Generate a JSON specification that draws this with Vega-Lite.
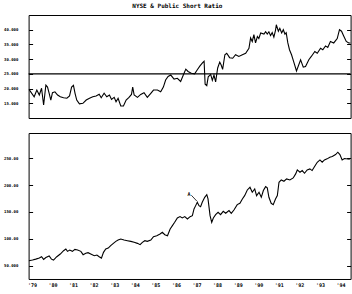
{
  "$schema": "https://vega.github.io/schema/vega-lite/v6.json",
  "padding": {"left": 2.6, "top": 2, "right": 0, "bottom": 0},
  "background": "white",
  "title": {"text": "NYSE & Public Short Ratio", "fontSize": 6, "font": "DejaVu Sans Mono", "fontWeight": "bold", "offset": 6, "anchor": "middle", "color": "black"},
  "config": {
    "view": {"stroke": "black", "strokeWidth": 1},
    "axis": {"labelFont": "DejaVu Sans Mono", "labelFontWeight": "bold", "labelColor": "black", "grid": false, "domain": false, "tickColor": "black", "title": null, "labelOverlap": false}
  },
  "spacing": 13,
  "datasets": {
    "ratio": [
      {"t": 1978.85, "v": 19.8}, {"t": 1979.11, "v": 17.2}, {"t": 1979.24, "v": 19.5}, {"t": 1979.36, "v": 17.8}, {"t": 1979.47, "v": 20.1}, {"t": 1979.57, "v": 14.4}, {"t": 1979.68, "v": 21.2}, {"t": 1979.76, "v": 20.5}, {"t": 1979.84, "v": 18.4}, {"t": 1979.92, "v": 16.1},
      {"t": 1980.0, "v": 18.6}, {"t": 1980.12, "v": 18.9}, {"t": 1980.25, "v": 17.8}, {"t": 1980.38, "v": 17.2}, {"t": 1980.54, "v": 16.9}, {"t": 1980.7, "v": 16.7}, {"t": 1980.83, "v": 17.5}, {"t": 1980.93, "v": 20.5},
      {"t": 1981.02, "v": 21.1}, {"t": 1981.1, "v": 18.3}, {"t": 1981.18, "v": 16.1}, {"t": 1981.31, "v": 14.8}, {"t": 1981.48, "v": 15.0}, {"t": 1981.64, "v": 16.1}, {"t": 1981.8, "v": 16.7}, {"t": 1981.96, "v": 17.2},
      {"t": 1982.12, "v": 17.5}, {"t": 1982.27, "v": 18.1}, {"t": 1982.37, "v": 16.9}, {"t": 1982.51, "v": 18.4}, {"t": 1982.64, "v": 17.2}, {"t": 1982.77, "v": 17.8}, {"t": 1982.87, "v": 16.3},
      {"t": 1983.0, "v": 17.0}, {"t": 1983.09, "v": 15.5}, {"t": 1983.19, "v": 16.7}, {"t": 1983.32, "v": 14.1}, {"t": 1983.45, "v": 14.1}, {"t": 1983.58, "v": 16.1}, {"t": 1983.72, "v": 17.0}, {"t": 1983.84, "v": 18.0}, {"t": 1983.9, "v": 20.5}, {"t": 1983.97, "v": 17.8},
      {"t": 1984.13, "v": 17.0}, {"t": 1984.29, "v": 18.0}, {"t": 1984.45, "v": 18.6}, {"t": 1984.61, "v": 17.0}, {"t": 1984.78, "v": 18.4}, {"t": 1984.91, "v": 19.5},
      {"t": 1985.1, "v": 19.5}, {"t": 1985.26, "v": 18.9}, {"t": 1985.39, "v": 20.5}, {"t": 1985.5, "v": 22.9}, {"t": 1985.62, "v": 24.1}, {"t": 1985.75, "v": 24.6}, {"t": 1985.91, "v": 23.2},
      {"t": 1986.07, "v": 23.5}, {"t": 1986.23, "v": 22.4}, {"t": 1986.36, "v": 24.6}, {"t": 1986.48, "v": 26.6}, {"t": 1986.59, "v": 25.8}, {"t": 1986.75, "v": 25.2}, {"t": 1986.91, "v": 25.0},
      {"t": 1987.04, "v": 26.4}, {"t": 1987.17, "v": 27.7}, {"t": 1987.3, "v": 28.8}, {"t": 1987.37, "v": 29.3}, {"t": 1987.42, "v": 21.5}, {"t": 1987.5, "v": 21.0}, {"t": 1987.57, "v": 24.0}, {"t": 1987.69, "v": 24.8}, {"t": 1987.77, "v": 22.8}, {"t": 1987.85, "v": 24.6}, {"t": 1987.93, "v": 22.3},
      {"t": 1988.03, "v": 27.0}, {"t": 1988.13, "v": 29.0}, {"t": 1988.2, "v": 28.0}, {"t": 1988.27, "v": 26.5}, {"t": 1988.38, "v": 31.5}, {"t": 1988.47, "v": 32.0}, {"t": 1988.61, "v": 30.5}, {"t": 1988.76, "v": 30.3}, {"t": 1988.9, "v": 31.5},
      {"t": 1989.06, "v": 30.9}, {"t": 1989.23, "v": 31.5}, {"t": 1989.39, "v": 32.0}, {"t": 1989.55, "v": 33.7}, {"t": 1989.63, "v": 37.2}, {"t": 1989.71, "v": 36.0}, {"t": 1989.79, "v": 38.3}, {"t": 1989.87, "v": 35.5}, {"t": 1989.96, "v": 37.7},
      {"t": 1990.03, "v": 37.0}, {"t": 1990.12, "v": 38.9}, {"t": 1990.28, "v": 38.5}, {"t": 1990.36, "v": 39.3}, {"t": 1990.44, "v": 38.5}, {"t": 1990.52, "v": 39.3}, {"t": 1990.6, "v": 38.0}, {"t": 1990.68, "v": 39.0}, {"t": 1990.76, "v": 37.5}, {"t": 1990.84, "v": 39.8}, {"t": 1990.88, "v": 41.7}, {"t": 1990.98, "v": 39.5},
      {"t": 1991.05, "v": 40.5}, {"t": 1991.14, "v": 38.9}, {"t": 1991.22, "v": 40.0}, {"t": 1991.3, "v": 38.5}, {"t": 1991.36, "v": 39.0}, {"t": 1991.44, "v": 35.5}, {"t": 1991.52, "v": 33.2}, {"t": 1991.62, "v": 31.5}, {"t": 1991.73, "v": 29.0}, {"t": 1991.86, "v": 26.0},
      {"t": 1992.06, "v": 29.8}, {"t": 1992.19, "v": 27.3}, {"t": 1992.3, "v": 27.5}, {"t": 1992.46, "v": 29.8}, {"t": 1992.59, "v": 31.0}, {"t": 1992.75, "v": 32.6}, {"t": 1992.87, "v": 32.0},
      {"t": 1993.03, "v": 33.7}, {"t": 1993.14, "v": 33.2}, {"t": 1993.27, "v": 34.5}, {"t": 1993.38, "v": 34.0}, {"t": 1993.51, "v": 36.0}, {"t": 1993.67, "v": 35.5}, {"t": 1993.76, "v": 36.3}, {"t": 1993.84, "v": 37.0}, {"t": 1993.95, "v": 40.0},
      {"t": 1994.05, "v": 39.5}, {"t": 1994.16, "v": 37.8}, {"t": 1994.28, "v": 36.0}, {"t": 1994.4, "v": 35.5}, {"t": 1994.49, "v": 35.5}
    ],
    "nyse": [
      {"t": 1978.85, "v": 59.1}, {"t": 1979.03, "v": 60.3}, {"t": 1979.19, "v": 62.0}, {"t": 1979.36, "v": 64.0}, {"t": 1979.47, "v": 66.5}, {"t": 1979.57, "v": 61.6}, {"t": 1979.68, "v": 65.0}, {"t": 1979.84, "v": 67.8}, {"t": 1979.95, "v": 62.0},
      {"t": 1980.05, "v": 60.3}, {"t": 1980.21, "v": 66.5}, {"t": 1980.38, "v": 71.5}, {"t": 1980.54, "v": 77.7}, {"t": 1980.65, "v": 80.8}, {"t": 1980.73, "v": 76.5}, {"t": 1980.84, "v": 79.0}, {"t": 1980.97, "v": 76.5},
      {"t": 1981.09, "v": 80.2}, {"t": 1981.22, "v": 79.0}, {"t": 1981.38, "v": 76.5}, {"t": 1981.49, "v": 70.3}, {"t": 1981.62, "v": 72.8}, {"t": 1981.73, "v": 74.0}, {"t": 1981.86, "v": 71.5},
      {"t": 1982.03, "v": 68.4}, {"t": 1982.16, "v": 69.7}, {"t": 1982.27, "v": 66.5}, {"t": 1982.38, "v": 64.0}, {"t": 1982.48, "v": 74.6}, {"t": 1982.59, "v": 80.8}, {"t": 1982.71, "v": 82.7}, {"t": 1982.83, "v": 87.1}, {"t": 1982.96, "v": 91.4},
      {"t": 1983.08, "v": 95.1}, {"t": 1983.19, "v": 97.6}, {"t": 1983.32, "v": 99.5}, {"t": 1983.48, "v": 97.6}, {"t": 1983.64, "v": 96.4}, {"t": 1983.81, "v": 95.1}, {"t": 1983.97, "v": 93.3},
      {"t": 1984.13, "v": 91.4}, {"t": 1984.26, "v": 88.9}, {"t": 1984.37, "v": 93.3}, {"t": 1984.49, "v": 96.4}, {"t": 1984.61, "v": 95.1}, {"t": 1984.78, "v": 97.6}, {"t": 1984.91, "v": 103.9},
      {"t": 1985.07, "v": 105.7}, {"t": 1985.23, "v": 108.8}, {"t": 1985.34, "v": 112.0}, {"t": 1985.46, "v": 107.6}, {"t": 1985.59, "v": 105.7}, {"t": 1985.72, "v": 118.2}, {"t": 1985.83, "v": 124.4}, {"t": 1985.94, "v": 130.6},
      {"t": 1986.07, "v": 138.7}, {"t": 1986.2, "v": 141.2}, {"t": 1986.31, "v": 138.7}, {"t": 1986.43, "v": 141.2}, {"t": 1986.56, "v": 136.8}, {"t": 1986.69, "v": 141.2}, {"t": 1986.8, "v": 143.0}, {"t": 1986.88, "v": 155.5}, {"t": 1986.96, "v": 161.7},
      {"t": 1987.04, "v": 167.9}, {"t": 1987.12, "v": 161.7}, {"t": 1987.2, "v": 159.8}, {"t": 1987.28, "v": 167.9}, {"t": 1987.4, "v": 177.2}, {"t": 1987.5, "v": 182.2}, {"t": 1987.56, "v": 174.1}, {"t": 1987.66, "v": 143.0}, {"t": 1987.74, "v": 130.6}, {"t": 1987.82, "v": 138.7}, {"t": 1987.93, "v": 144.9},
      {"t": 1988.05, "v": 149.3}, {"t": 1988.17, "v": 144.9}, {"t": 1988.3, "v": 151.1}, {"t": 1988.42, "v": 147.4}, {"t": 1988.58, "v": 152.4}, {"t": 1988.69, "v": 147.4}, {"t": 1988.82, "v": 153.6}, {"t": 1988.98, "v": 163.6},
      {"t": 1989.11, "v": 166.0}, {"t": 1989.23, "v": 174.1}, {"t": 1989.34, "v": 180.3}, {"t": 1989.47, "v": 190.9}, {"t": 1989.6, "v": 195.9}, {"t": 1989.71, "v": 186.6}, {"t": 1989.83, "v": 192.8}, {"t": 1989.92, "v": 180.3},
      {"t": 1990.04, "v": 186.6}, {"t": 1990.15, "v": 177.2}, {"t": 1990.25, "v": 189.7}, {"t": 1990.36, "v": 197.1}, {"t": 1990.44, "v": 194.7}, {"t": 1990.52, "v": 177.2}, {"t": 1990.63, "v": 166.0}, {"t": 1990.73, "v": 163.6}, {"t": 1990.84, "v": 174.1}, {"t": 1990.93, "v": 180.3},
      {"t": 1991.01, "v": 205.2}, {"t": 1991.12, "v": 209.6}, {"t": 1991.25, "v": 207.1}, {"t": 1991.38, "v": 211.4}, {"t": 1991.54, "v": 209.6}, {"t": 1991.7, "v": 213.3}, {"t": 1991.82, "v": 220.8}, {"t": 1991.9, "v": 228.2},
      {"t": 1992.03, "v": 223.9}, {"t": 1992.14, "v": 227.0}, {"t": 1992.25, "v": 222.0}, {"t": 1992.38, "v": 228.2}, {"t": 1992.51, "v": 230.1}, {"t": 1992.62, "v": 227.0}, {"t": 1992.74, "v": 234.5}, {"t": 1992.87, "v": 242.5},
      {"t": 1993.0, "v": 246.9}, {"t": 1993.11, "v": 242.5}, {"t": 1993.22, "v": 246.9}, {"t": 1993.35, "v": 248.8}, {"t": 1993.48, "v": 251.9}, {"t": 1993.6, "v": 253.1}, {"t": 1993.76, "v": 256.8}, {"t": 1993.87, "v": 261.2}, {"t": 1993.97, "v": 256.8},
      {"t": 1994.08, "v": 246.9}, {"t": 1994.19, "v": 249.4}, {"t": 1994.45, "v": 248.1}
    ]
  },
  "vconcat": [
    {
      "width": 322,
      "height": 103,
      "resolve": {"axis": {"y": "independent"}},
      "layer": [
        {
          "data": {"name": "ratio"},
          "mark": {"type": "line", "color": "black", "strokeWidth": 1.1, "clip": true},
          "encoding": {
            "x": {"field": "t", "type": "quantitative", "scale": {"domain": [1978.84, 1994.49], "nice": false, "zero": false}, "axis": null},
            "y": {"field": "v", "type": "quantitative", "scale": {"domain": [10, 45], "nice": false, "zero": false},
                  "axis": {"orient": "left", "values": [15, 20, 25, 30, 35, 40], "format": ".5r", "labelFontSize": 4, "tickSize": -4, "labelPadding": 14.7, "tickCount": 20}}
          }
        },
        {
          "data": {"values": [{"ref": 25}]},
          "mark": {"type": "rule", "color": "black", "strokeWidth": 1.3},
          "encoding": {
            "y": {"field": "ref", "type": "quantitative", "axis": {"orient": "right", "values": [15, 20, 25, 30, 35, 40], "labels": false, "tickSize": -4, "tickCount": 20}}
          }
        }
      ]
    },
    {
      "width": 322,
      "height": 146,
      "resolve": {"axis": {"y": "independent"}},
      "layer": [
        {
          "data": {"name": "nyse"},
          "mark": {"type": "line", "color": "black", "strokeWidth": 1.1, "clip": true},
          "encoding": {
            "x": {"field": "t", "type": "quantitative", "scale": {"domain": [1978.84, 1994.49], "nice": false, "zero": false},
                  "axis": {"values": [1979, 1980, 1981, 1982, 1983, 1984, 1985, 1986, 1987, 1988, 1989, 1990, 1991, 1992, 1993, 1994], "tickCount": 30, "labelExpr": "\"'\" + substring(toString(datum.value), 2)", "labelFontSize": 5, "ticks": false, "labelPadding": 4, "labelOverlap": false, "labelFlush": false}},
            "y": {"field": "v", "type": "quantitative", "scale": {"domain": [25, 297], "nice": false, "zero": false},
                  "axis": {"orient": "left", "values": [50, 100, 150, 200, 250], "format": ".5r", "labelFontSize": 4, "tickSize": -4, "labelPadding": 14.7, "tickCount": 20}}
          }
        },
        {
          "data": {"values": [{"t": 1986.64, "v": 183.5, "label": "A"}]},
          "mark": {"type": "text", "fontSize": 5, "font": "DejaVu Sans Mono", "fontWeight": "bold", "color": "black"},
          "encoding": {
            "x": {"field": "t", "type": "quantitative"},
            "y": {"field": "v", "type": "quantitative", "axis": {"orient": "right", "values": [50, 100, 150, 200, 250], "labels": false, "tickSize": -4, "tickCount": 20}},
            "text": {"field": "label"}
          }
        },
        {
          "data": {"values": [{"t1": 1986.75, "v1": 181, "t2": 1987.02, "v2": 170}]},
          "mark": {"type": "rule", "color": "black", "strokeWidth": 0.8},
          "encoding": {
            "x": {"field": "t1", "type": "quantitative"},
            "x2": {"field": "t2"},
            "y": {"field": "v1", "type": "quantitative", "axis": null},
            "y2": {"field": "v2"}
          }
        }
      ]
    }
  ]
}
